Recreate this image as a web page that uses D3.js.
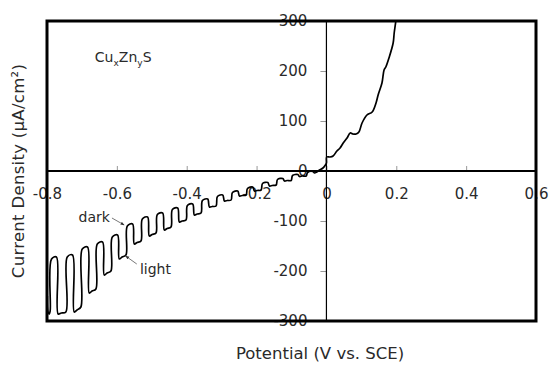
<!DOCTYPE html>
<html>
<head>
<meta charset="utf-8">
<script src="https://cdn.jsdelivr.net/npm/d3@7"></script>
<style>
  body { margin: 0; background: #fff; }
  svg text { font-family: "DejaVu Sans", sans-serif; fill: #2a2a2a; }
</style>
</head>
<body>
<svg id="chart"></svg>
<script>
// chopped-light sweep, dark/light steps (V, uA/cm2)
const choppedSweep = [
  [-0.799, -250], [-0.797, -282], [-0.794, -286],
  [-0.791, -280], [-0.787, -176], [-0.773, -172], [-0.768, -286], [-0.759, -284],
  [-0.746, -282], [-0.742, -172], [-0.727, -168], [-0.722, -282], [-0.714, -278],
  [-0.703, -272], [-0.699, -156], [-0.684, -152], [-0.679, -244], [-0.671, -240],
  [-0.660, -236], [-0.656, -146], [-0.641, -142], [-0.636, -208], [-0.628, -204],
  [-0.617, -200], [-0.613, -132], [-0.598, -128], [-0.593, -176], [-0.585, -172],
  [-0.574, -168], [-0.570, -110], [-0.555, -106], [-0.550, -146], [-0.542, -143],
  [-0.531, -140], [-0.527, -96], [-0.512, -92], [-0.507, -130], [-0.499, -127],
  [-0.488, -124], [-0.484, -87], [-0.469, -84], [-0.464, -118], [-0.456, -115],
  [-0.445, -112], [-0.441, -77], [-0.426, -74], [-0.421, -102], [-0.413, -100],
  [-0.402, -98], [-0.398, -69], [-0.383, -66], [-0.378, -88], [-0.370, -86],
  [-0.359, -84], [-0.355, -59], [-0.340, -56], [-0.335, -72], [-0.327, -71],
  [-0.316, -70], [-0.312, -51], [-0.297, -48], [-0.292, -60], [-0.284, -59],
  [-0.273, -58], [-0.269, -43], [-0.254, -40], [-0.249, -50], [-0.241, -49],
  [-0.230, -48], [-0.226, -35], [-0.211, -32], [-0.206, -40], [-0.198, -39],
  [-0.187, -38], [-0.183, -25], [-0.168, -23], [-0.163, -30], [-0.155, -29],
  [-0.144, -28], [-0.140, -17], [-0.125, -15], [-0.120, -20], [-0.112, -19],
  [-0.101, -19], [-0.097, -9], [-0.082, -7], [-0.077, -11], [-0.069, -10],
  [-0.058, -10], [-0.054, -3], [-0.039, -1], [-0.034, -4], [-0.028, -2]
];

// anodic branch after 0 V
const anodicSweep = [
  [-0.020, 2], [-0.010, 6], [-0.003, 12], [0.000, 16], [0.001, 28], [0.010, 28],
  [0.019, 30], [0.030, 40], [0.039, 46], [0.048, 56], [0.059, 66], [0.068, 76],
  [0.076, 74], [0.085, 74], [0.093, 78], [0.102, 96], [0.116, 112], [0.131, 118],
  [0.142, 136], [0.148, 152], [0.159, 176], [0.165, 202], [0.170, 208], [0.179, 226],
  [0.191, 256], [0.194, 276], [0.199, 302], [0.201, 320]
];

const xTicks = [-0.8, -0.6, -0.4, -0.2, 0, 0.2, 0.4, 0.6];
const yTicks = [-300, -200, -100, 0, 100, 200, 300];

const width = 552, height = 365;
const margin = { top: 21, right: 16, bottom: 44, left: 47 };
const innerW = width - margin.left - margin.right;
const innerH = height - margin.top - margin.bottom;

const svg = d3.select('#chart')
    .attr('width', width)
    .attr('height', height);

const chart = svg.append('g')
    .attr('transform', `translate(${margin.left},${margin.top})`);

const xScale = d3.scaleLinear().domain([-0.8, 0.6]).range([0, innerW]);
const yScale = d3.scaleLinear().domain([-300, 300]).range([innerH, 0]);

const fmt = d => d === 0 ? '0' : d.toFixed(d % 1 === 0 ? 0 : 1);

// x axis sits on the zero-current line, ticks pointing up
const xAxis = d3.axisBottom(xScale)
    .tickValues(xTicks)
    .tickSize(-5)
    .tickSizeOuter(0)
    .tickPadding(17)
    .tickFormat(fmt);

const yAxis = d3.axisLeft(yScale)
    .tickValues(yTicks)
    .tickSize(6)
    .tickSizeOuter(0)
    .tickPadding(13)
    .tickFormat(fmt);

const xAxisG = chart.append('g')
    .attr('transform', `translate(0,${yScale(0)})`)
    .call(xAxis)
    .call(g => g.select('.domain').remove());

const yAxisG = chart.append('g')
    .attr('transform', `translate(${xScale(0)},0)`)
    .call(yAxis)
    .call(g => g.select('.domain').remove());

[xAxisG, yAxisG].forEach(g => {
  g.selectAll('.tick line').attr('stroke', '#999');
  g.selectAll('.tick text')
      .style('font-size', '15px')
      .attr('fill', '#2a2a2a');
});

// zero lines
chart.append('line')
    .attr('x1', 0).attr('x2', innerW)
    .attr('y1', yScale(0)).attr('y2', yScale(0))
    .attr('stroke', '#000').attr('stroke-width', 2);

chart.append('line')
    .attr('x1', xScale(0)).attr('x2', xScale(0))
    .attr('y1', 0).attr('y2', innerH)
    .attr('stroke', '#000').attr('stroke-width', 1.2);

// curve
chart.append('clipPath').attr('id', 'clip')
  .append('rect').attr('width', innerW).attr('height', innerH);

const line = d3.line()
    .x(d => xScale(d[0]))
    .y(d => yScale(d[1]))
    .curve(d3.curveCatmullRom.alpha(0.5));

chart.append('path')
    .datum(choppedSweep.concat(anodicSweep))
    .attr('clip-path', 'url(#clip)')
    .attr('fill', 'none')
    .attr('stroke', '#000')
    .attr('stroke-width', 1.7)
    .attr('stroke-linejoin', 'round')
    .attr('d', line);

// annotations
svg.append('defs').append('marker')
    .attr('id', 'arrow')
    .attr('viewBox', '0 0 10 10')
    .attr('refX', 9).attr('refY', 5)
    .attr('markerWidth', 5).attr('markerHeight', 5)
    .attr('orient', 'auto')
  .append('path')
    .attr('d', 'M0,1L10,5L0,9Z')
    .attr('fill', '#333');

const label = chart.append('text')
    .attr('x', xScale(-0.663))
    .attr('y', yScale(218))
    .style('font-size', '14px');
label.append('tspan').text('Cu');
label.append('tspan').text('x').style('font-size', '9px').attr('dy', 4);
label.append('tspan').text('Zn').attr('dy', -4);
label.append('tspan').text('y').style('font-size', '9px').attr('dy', 4);
label.append('tspan').text('S').attr('dy', -4);

chart.append('text')
    .attr('x', xScale(-0.620))
    .attr('y', yScale(-102))
    .attr('text-anchor', 'end')
    .style('font-size', '14px')
    .text('dark');

chart.append('text')
    .attr('x', xScale(-0.534))
    .attr('y', yScale(-206))
    .style('font-size', '14px')
    .text('light');

chart.append('line')
    .attr('x1', xScale(-0.614)).attr('y1', yScale(-94))
    .attr('x2', xScale(-0.579)).attr('y2', yScale(-108))
    .attr('stroke', '#555').attr('stroke-width', 0.8)
    .attr('marker-end', 'url(#arrow)');

chart.append('line')
    .attr('x1', xScale(-0.543)).attr('y1', yScale(-186))
    .attr('x2', xScale(-0.575)).attr('y2', yScale(-170))
    .attr('stroke', '#555').attr('stroke-width', 0.8)
    .attr('marker-end', 'url(#arrow)');

// frame drawn over the end labels, like the original
chart.append('rect')
    .attr('width', innerW)
    .attr('height', innerH)
    .attr('fill', 'none')
    .attr('stroke', '#000')
    .attr('stroke-width', 3);

// axis titles
svg.append('text')
    .attr('transform', `translate(18,${margin.top + yScale(0)}) rotate(-90)`)
    .attr('text-anchor', 'middle')
    .attr('dy', '0.35em')
    .style('font-size', '16.5px')
    .style('letter-spacing', '0.3px')
    .text('Current Density (μA/cm²)');

svg.append('text')
    .attr('x', 320)
    .attr('y', 359)
    .attr('text-anchor', 'middle')
    .style('font-size', '16.5px')
    .text('Potential (V vs. SCE)');
</script>
</body>
</html>
